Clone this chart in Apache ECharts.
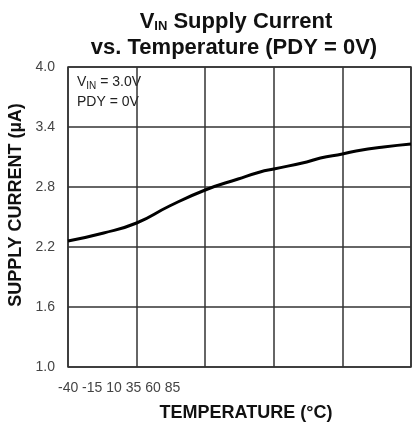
<!DOCTYPE html>
<html>
<head>
<meta charset="utf-8">
<script src="https://cdn.jsdelivr.net/npm/echarts@6/dist/echarts.min.js"></script>
<style>
  html, body { margin: 0; padding: 0; background: #fff; }
  #chart { width: 418px; height: 425px; }
</style>
</head>
<body>
<div id="chart"></div>
<script>
// 温度 (°C) 与电流 (µA)
const temps = [-40, -27, -15, -3, 10, 22, 30, 35, 47, 52, 60, 65, 75, 85]
const current = [2.26, 2.34, 2.44, 2.61, 2.77, 2.88, 2.95, 2.98, 3.05, 3.09, 3.13, 3.16, 3.20, 3.23]

// 刻度
const xTicks = ['-40', '-15', '10', '35', '60', '85']
const xMin = -40, xMax = 85, xStep = 25
const yMin = 1.0, yMax = 4.0, yStep = 0.6

const font = 'Liberation Sans, Arial, Helvetica, sans-serif'

const chart = echarts.init(document.getElementById('chart'))

const option = {
  animation: false,
  backgroundColor: '#fff',
  grid: {
    left: 68,
    right: 7,
    top: 67,
    bottom: 58,
    containLabel: false,
    outerBoundsMode: 'none',
    show: true,
    borderColor: '#333',
    borderWidth: 1.5
  },
  xAxis: {
    type: 'value',
    min: xMin,
    max: xMax,
    interval: xStep,
    name: 'TEMPERATURE (°C)',
    nameLocation: 'middle',
    nameGap: 37,
    nameTextStyle: { fontFamily: font, fontWeight: 'bold', fontSize: 18, color: '#111', padding: [0, 0, 0, 13] },
    axisLine: { show: false },
    axisTick: { show: false },
    axisLabel: { show: false },
    splitLine: { lineStyle: { color: '#333', width: 1.5 } }
  },
  yAxis: {
    type: 'value',
    min: yMin,
    max: yMax,
    interval: yStep,
    name: 'SUPPLY CURRENT (µA)',
    nameLocation: 'middle',
    nameGap: 33,
    nameRotate: 90,
    nameTextStyle: { fontFamily: font, fontWeight: 'bold', fontSize: 18, color: '#111', padding: [0, 0, 0, 24] },
    axisLine: { show: false },
    axisTick: { show: false },
    axisLabel: {
      margin: 13,
      fontFamily: font,
      fontSize: 14,
      color: '#444',
      formatter: v => v.toFixed(1)
    },
    splitLine: { lineStyle: { color: '#333', width: 1.5 } }
  },
  graphic: [
    {
      type: 'text',
      x: 236,
      y: 10,
      style: {
        text: '{v|V}{s|IN}{v| Supply Current}',
        align: 'center',
        rich: {
          v: { fontFamily: font, fontWeight: 'bold', fontSize: 22, fill: '#111' },
          s: { fontFamily: font, fontWeight: 'bold', fontSize: 13, fill: '#111', padding: [10, 0, 0, 0] }
        }
      }
    },
    {
      type: 'text',
      x: 234,
      y: 37,
      style: {
        text: 'vs. Temperature (PDY = 0V)',
        align: 'center',
        fontFamily: font,
        fontWeight: 'bold',
        fontSize: 22,
        fill: '#111'
      }
    },
    {
      type: 'text',
      x: 77,
      y: 74,
      style: {
        text: '{v|V}{s|IN}{v| = 3.0V}',
        rich: {
          v: { fontFamily: font, fontSize: 14, fill: '#222' },
          s: { fontFamily: font, fontSize: 10, fill: '#222', padding: [7, 0, 0, 0] }
        }
      }
    },
    {
      type: 'text',
      x: 77,
      y: 95,
      style: { text: 'PDY = 0V', fontFamily: font, fontSize: 14, fill: '#222' }
    },
    {
      type: 'text',
      x: 58,
      y: 381,
      style: { text: xTicks.join(' '), fontFamily: font, fontSize: 14, fill: '#444' }
    }
  ],
  series: [
    {
      type: 'line',
      smooth: true,
      showSymbol: false,
      data: temps.map((t, i) => [t, current[i]]),
      lineStyle: { color: '#000', width: 3 }
    }
  ]
}

chart.setOption(option)
</script>
</body>
</html>
